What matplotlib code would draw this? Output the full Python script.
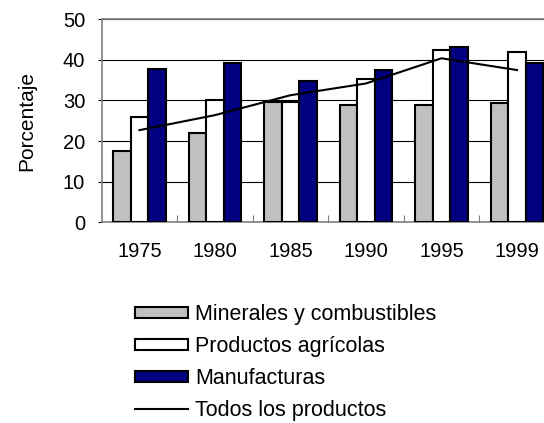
import matplotlib
matplotlib.use("Agg")
import matplotlib.pyplot as plt
import numpy as np

plt.rcParams['font.family'] = ['Liberation Sans', 'DejaVu Sans']

years = ["1975", "1980", "1985", "1990", "1995", "1999"]
minerales = [17.6, 21.9, 29.6, 28.8, 28.8, 29.3]
agricolas = [25.9, 30.1, 29.7, 35.2, 42.5, 42.0]
manufacturas = [37.7, 39.2, 34.8, 37.4, 43.2, 39.2]
todos = [22.7, 26.4, 31.3, 34.2, 40.4, 37.5]
yticks = [0, 10, 20, 30, 40, 50]

FS = 14.5
LFS = 15.5
W, H = 544, 423
fig = plt.figure(figsize=(W / 100, H / 100), dpi=100)
left = 101.75 / W
right = 554.75 / W
bottom = (H - 222.3) / H
top = (H - 19.3) / H
ax = fig.add_axes([left, bottom, right - left, top - bottom])

x = np.arange(len(years))
bw = 0.23
ec = 'black'
lw = 1.5
b1 = ax.bar(x - bw, minerales, bw, color='#C0C0C0', edgecolor=ec, linewidth=lw,
            label='Minerales y combustibles', zorder=3)
b2 = ax.bar(x, agricolas, bw, color='white', edgecolor=ec, linewidth=lw,
            label='Productos agrícolas', zorder=3)
b3 = ax.bar(x + bw, manufacturas, bw, color='#000080', edgecolor=ec, linewidth=lw,
            label='Manufacturas', zorder=3)
l1, = ax.plot(x, todos, color='black', linewidth=1.5, label='Todos los productos', zorder=4)

ax.set_xlim(-0.5, len(years) - 0.5)
ax.set_ylim(0, 50)
ax.set_yticks(yticks)
ax.set_yticklabels([str(v) for v in yticks], fontsize=FS)
ax.tick_params(axis='y', length=3, width=0.8, color='black', pad=9)

ax.set_xticks(x)
ax.set_xticklabels(years, fontsize=FS)
ax.tick_params(axis='x', which='major', length=0, pad=14)
ax.set_xticks(np.arange(0.5, len(years) - 0.5, 1), minor=True)
ax.tick_params(axis='x', which='minor', direction='in', length=5, width=0.8, color='#808080')

ax.yaxis.grid(True, color='black', linewidth=0.8, zorder=0)
ax.set_axisbelow(True)
for s in ['left', 'bottom', 'top']:
    ax.spines[s].set_color('#808080')
    ax.spines[s].set_linewidth(1.2)
ax.spines['right'].set_visible(False)

ax.set_ylabel('Porcentaje', fontsize=15, labelpad=19)

fig.legend(handles=[b1, b2, b3, l1], loc='upper left',
           bbox_to_anchor=(135 / W, 1 - 304.2 / H),
           frameon=False, fontsize=LFS, handlelength=2.46, handleheight=0.44,
           handletextpad=0.33, labelspacing=0.51, borderpad=0, borderaxespad=0)

fig.savefig('out.png', dpi=100)
